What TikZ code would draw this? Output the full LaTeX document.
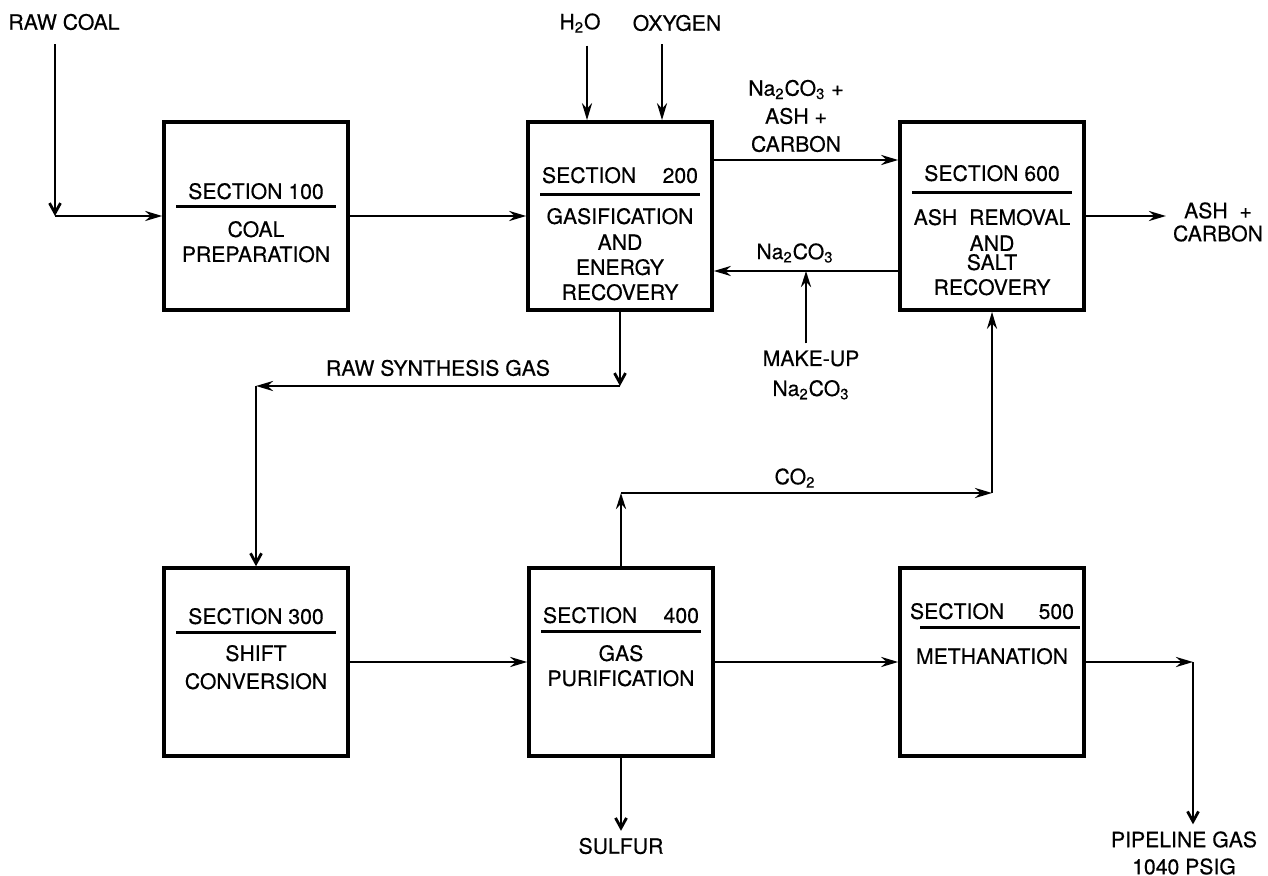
\documentclass[tikz,border=0pt]{standalone}
\usepackage{fontspec}
\setmainfont{TeX Gyre Heros}[FakeBold=0.4]
\usepackage{tikz}
\usetikzlibrary{positioning,arrows.meta}

\tikzset{
  unit/.style={draw, line width=1.8pt, minimum width=92pt, minimum height=94pt, inner sep=0pt},
  head/.style={inner sep=0pt},
  desc/.style={inner sep=0pt, align=center},
  rule/.style={line width=1.4pt},
  flow/.style={line width=1.4pt, -{Stealth[length=8.5pt,width=5pt]}},
  feed/.style={line width=1.4pt, -{Straight Barb[length=5pt,width=5.5pt]}},
  feedopen/.style={line width=1.4pt, -{Stealth[open,length=8pt,width=5pt]}},
}

\begin{document}
\begin{tikzpicture}[x=0.5pt,y=-0.5pt,font=\fontsize{10.6}{12.5}\selectfont]
      \useasboundingbox (0,0) rectangle (1268,876);

      \node[unit] (s100) at (256,216) {};
      \node[unit] (s200) at (620,216) {};
      \node[unit] (s600) at (992,216) {};
      \node[unit] (s300) at (256,662) {};
      \node[unit] (s400) at (621,662) {};
      \node[unit] (s500) at (992,662) {};

      %titles and rules
      \node[head] (h100) at ([yshift=-35.5pt]s100.north) {SECTION 100};
      \node[head, text width=78pt] (h200) at ([yshift=-27.5pt]s200.north) {SECTION\hfill 200};
      \node[head] (h600) at ([yshift=-26.5pt]s600.north) {SECTION 600};
      \node[head] (h300) at ([yshift=-25pt]s300.north) {SECTION 300};
      \node[head, text width=78pt] (h400) at ([yshift=-24.5pt]s400.north) {SECTION\hfill 400};
      \node[head, text width=82pt] (h500) at ([yshift=-22.5pt]s500.north) {SECTION\hfill 500};

      \coordinate (r100) at ([yshift=-3.5pt]h100.south);
      \coordinate (r200) at ([yshift=-5.5pt]h200.south);
      \coordinate (r600) at ([yshift=-5.5pt]h600.south);
      \coordinate (r300) at ([yshift=-4pt]h300.south);
      \coordinate (r400) at ([yshift=-4pt]h400.south);
      \coordinate (r500) at ([yshift=-4pt]h500.south);
      \draw[rule] ([xshift=7pt]s100.west |- r100) -- ([xshift=-7pt]s100.east |- r100);
      \draw[rule] ([xshift=7pt]s200.west |- r200) -- ([xshift=-7pt]s200.east |- r200);
      \draw[rule] ([xshift=7pt]s600.west |- r600) -- ([xshift=-7pt]s600.east |- r600);
      \draw[rule] ([xshift=7pt]s300.west |- r300) -- ([xshift=-7pt]s300.east |- r300);
      \draw[rule] ([xshift=7pt]s400.west |- r400) -- ([xshift=-7pt]s400.east |- r400);
      \draw[rule] ([xshift=11pt]s500.west |- r500) -- ([xshift=-3pt]s500.east |- r500);

      \node[desc, below=7pt of r100] (d100) {COAL\\PREPARATION};
      \node[desc, below=6.5pt of r200] (d200) {GASIFICATION\\[0.5pt]AND\\ENERGY\\RECOVERY};
      \node[desc, below=8pt of r600] (d600) {ASH\ \ REMOVAL\\[0.5pt]AND\\[-3pt]SALT\\RECOVERY};
      \node[desc, below=6pt of r300] (d300) {SHIFT\\[1.5pt]CONVERSION};
      \node[desc, below=6.5pt of r400] (d400) {GAS\\PURIFICATION};
      \node[desc, below=10pt of r500] (d500) {METHANATION};

      %feeds
      \node (rawcoal) at (64,22) {RAW COAL};
      \node (h2o) at (580,23) {H\textsubscript{2}O};
      \node (oxygen) at (677,23) {OXYGEN};
      \coordinate (coalbend) at (55,216);
      \draw[feed, shorten <=3.5pt] (rawcoal.south -| coalbend) -- (coalbend);
      \draw[flow] (coalbend) -- (s100.west);
      \draw[flow, shorten <=3pt] ([xshift=3.5pt]h2o.south) -- ([xshift=3.5pt]h2o.south |- s200.north);
      \draw[flow, shorten <=3pt] ([xshift=-7.5pt]oxygen.south) -- ([xshift=-7.5pt]oxygen.south |- s200.north);
      \draw[flow] (s100.east) -- (s200.west);

      %200>600 and back
      \node[align=center, font=\fontsize{10.6}{14}\selectfont] (solids) at (796,116)
        {Na\textsubscript{2}CO\textsubscript{3} +\\ASH +\\CARBON};
      \draw[flow] ([yshift=28pt]s200.east) -- ([yshift=28pt]s600.west);
      \node (soda) at (795,253) {Na\textsubscript{2}CO\textsubscript{3}};
      \draw[flow] ([yshift=-27.5pt]s600.west) -- ([yshift=-27.5pt]s200.east);
      \node[align=center, font=\fontsize{10.6}{15}\selectfont] (makeup) at (811,375)
        {MAKE-UP\\Na\textsubscript{2}CO\textsubscript{3}};
      \coordinate (mkjoin) at (806,271);
      \draw[feedopen] (mkjoin |- makeup.north) -- (mkjoin);
      \node[align=center, font=\fontsize{10.6}{11.5}\selectfont] (ashout) at (1218,222) {ASH\ \ +\\CARBON};
      \draw[flow] (s600.east) -- (s600.east -| ashout.west);

      %raw gas to shift
      \node (rsgas) at (438,368) {RAW SYNTHESIS GAS};
      \coordinate (rsg1) at (620,386);
      \coordinate (rsg2) at (256,386);
      \draw[feed] (s200.south) -- (rsg1);
      \draw[flow] (rsg1) -- (rsg2);
      \draw[feed] (rsg2) -- (s300.north);
      \draw[flow] (s300.east) -- (s400.west);

      %co2 back to 600
      \node (co2) at (795,478) {CO\textsubscript{2}};
      \coordinate (co2a) at (621,493);
      \coordinate (co2b) at (992,493);
      \draw[feedopen] (s400.north) -- (co2a);
      \draw[flow] (co2a) -- (co2b);
      \draw[flow] (co2b) -- (s600.south);

      %products
      \node (sulfur) at (621,846) {SULFUR};
      \draw[feed] (s400.south) -- (sulfur.north);
      \draw[flow] (s400.east) -- (s500.west);
      \node[align=center, font=\fontsize{10.6}{13.5}\selectfont] (pipeline) at (1184,853) {PIPELINE GAS\\1040 PSIG};
      \coordinate (pipebend) at (1193,662);
      \draw[flow] (s500.east) -- (pipebend);
      \draw[feed] (pipebend) -- (pipebend |- pipeline.north);
    \end{tikzpicture}
\end{document}
